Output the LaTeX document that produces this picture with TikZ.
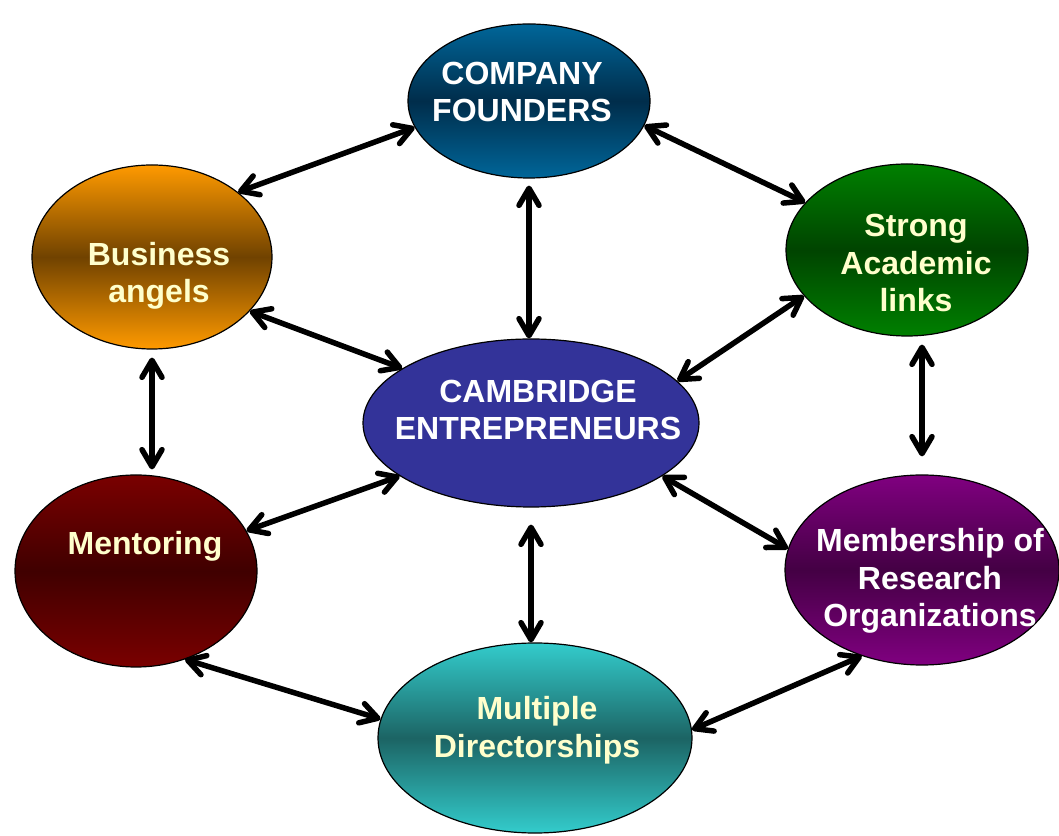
\documentclass[tikz,border=0pt]{standalone}
\usepackage{fontspec}
\setmainfont{Liberation Sans}
\usepackage{tikz}
\usetikzlibrary{shapes.geometric, arrows.meta}
\definecolor{cream}{HTML}{FFFFCC}
\tikzstyle{bubble} = [ellipse, draw=black, line width=1.2pt, inner sep=0pt]
\tikzstyle{whitetext} = [text=white, font=\bfseries\fontsize{32}{37.5}\selectfont, align=center]
\tikzstyle{creamtext} = [text=cream, font=\bfseries\fontsize{32}{37.5}\selectfont, align=center]
\tikzstyle{arrow} = [line width=5.5pt, <->, >={Straight Barb[length=17pt, width=20pt, round]}]

\begin{document}
\begin{tikzpicture}[x=1pt, y=1pt]
  \useasboundingbox (0,0) rectangle (1059,835);

  \node (1) [bubble, minimum width=242, minimum height=154, top color={rgb,255:red,0;green,102;blue,153}, bottom color={rgb,255:red,0;green,102;blue,153}, middle color={rgb,255:red,0;green,45;blue,75}, label={[whitetext, xshift=-7, yshift=9]center:{COMPANY\\FOUNDERS}}] at (529,734) {};

  \node (2) [bubble, minimum width=240, minimum height=184, top color={rgb,255:red,255;green,154;blue,0}, bottom color={rgb,255:red,255;green,154;blue,0}, middle color={rgb,255:red,112;green,66;blue,0}, label={[creamtext, xshift=7, yshift=-19]center:{Business\\angels}}] at (152,578) {};

  \node (3) [bubble, minimum width=242, minimum height=172, top color={rgb,255:red,0;green,128;blue,0}, bottom color={rgb,255:red,0;green,128;blue,0}, middle color={rgb,255:red,0;green,68;blue,0}, label={[creamtext, xshift=9, yshift=-13]center:{Strong\\Academic\\links}}] at (907,585) {};

  \node (4) [bubble, minimum width=336, minimum height=168, fill={rgb,255:red,51;green,51;blue,153}, label={[whitetext, xshift=7, yshift=13]center:{CAMBRIDGE\\ENTREPRENEURS}}] at (531,412) {};

  \node (5) [bubble, minimum width=242, minimum height=192, top color={rgb,255:red,122;green,0;blue,0}, bottom color={rgb,255:red,122;green,0;blue,0}, middle color={rgb,255:red,64;green,0;blue,0}, label={[creamtext, xshift=9, yshift=25]center:Mentoring}] at (136,264) {};

  \node (6) [bubble, minimum width=274, minimum height=190, top color={rgb,255:red,128;green,0;blue,128}, bottom color={rgb,255:red,128;green,0;blue,128}, middle color={rgb,255:red,68;green,0;blue,68}, label={[whitetext, xshift=8, yshift=-11]center:{Membership of\\Research\\Organizations}}] at (922,265) {};

  \node (7) [bubble, minimum width=314, minimum height=190, top color={rgb,255:red,51;green,204;blue,204}, bottom color={rgb,255:red,51;green,204;blue,204}, middle color={rgb,255:red,28;green,100;blue,100}, label={[creamtext, xshift=2, yshift=8]center:{Multiple\\Directorships}}] at (535,97) {};

  \draw [arrow] (2.37) -- (1.193);
  \draw [arrow] (1.348) -- (3.155);
  \draw [arrow, shorten <=7pt] (1.south) -- (1.south |- 4.north);
  \draw [arrow] (2.331) -- (4.157);
  \draw [arrow] (3.204) -- (4.16);
  \draw [arrow, shorten <=8pt, shorten >=5pt] (2.south) -- (2.south |- 5.north);
  \draw [arrow, shorten <=8pt, shorten >=18pt] (6.north |- 3.south) -- (6.north);
  \draw [arrow] (4.202) -- (5.20);
  \draw [arrow] (4.338) -- (6.171);
  \draw [arrow, shorten <=17pt] (4.south) -- (4.south |- 7.north);
  \draw [arrow] (5.299) -- (7.173);
  \draw [arrow] (6.235) -- (7.3);
\end{tikzpicture}
\end{document}
